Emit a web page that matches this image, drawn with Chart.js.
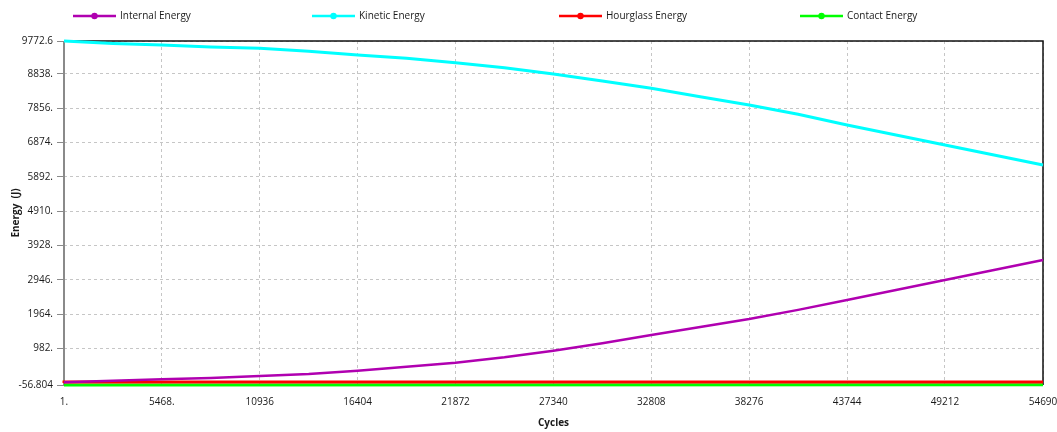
<!DOCTYPE html>
<html>
<head>
<meta charset="utf-8">
<script src="https://cdn.jsdelivr.net/npm/chart.js@4.4.1/dist/chart.umd.min.js"></script>
<style>
  html, body { margin: 0; padding: 0; background: #ffffff; }
  #wrap { width: 1057px; height: 432px; }
</style>
</head>
<body>
<div id="wrap"><canvas id="energy" width="1057" height="432"></canvas></div>
<script>
// Sampled cycle numbers for the smooth energy curves
const cycles = [1, 2735, 5468, 8202, 10936, 13670, 16404, 19138, 21872, 24606, 27340,
                30074, 32808, 35542, 38276, 41010, 43744, 46478, 49212, 51951, 54690];
const internalEnergy = [20, 66, 106, 143, 200, 257, 352, 466, 580, 735, 923,
                        1135, 1370, 1600, 1829, 2090, 2372, 2655, 2943, 3230, 3515];
const kineticEnergy = [9772.6, 9700, 9657, 9600, 9562, 9480, 9371, 9277, 9151, 9009, 8830,
                       8628, 8420, 8180, 7943, 7680, 7371, 7086, 6800, 6514, 6229];
// Hourglass energy jumps once, contact energy stays near zero
const hourglassCycles = [1, 39270, 54690];
const hourglassEnergy = [0, 30, 30];
const contactCycles = [1, 54690];
const contactEnergy = [-56.804, -50];

const seriesNames = ['Internal Energy', 'Kinetic Energy', 'Hourglass Energy', 'Contact Energy'];
const seriesColors = ['#B000B0', '#00FFFF', '#FF0000', '#00FF00'];

const xTicks = [1, 5468, 10936, 16404, 21872, 27340, 32808, 38276, 43744, 49212, 54690];
const xTickLabels = ['1.', '5468.', '10936', '16404', '21872', '27340', '32808', '38276', '43744', '49212', '54690'];
const yTicks = [-56.804, 982, 1964, 2946, 3928, 4910, 5892, 6874, 7856, 8838, 9772.6];
const yTickLabels = ['-56.804', '982.', '1964.', '2946.', '3928.', '4910.', '5892.', '6874.', '7856.', '8838.', '9772.6'];

const FONT = '"Open Sans", "Liberation Sans", sans-serif';
const TEXT = '#1a1a1a';

function pts(xs, ys) { return xs.map((x, i) => ({ x: x, y: ys[i] })); }

// Frame: grey left axis, black top and right edges
const framePlugin = {
  id: 'frame',
  beforeDatasetsDraw(chart) {
    const { ctx, chartArea: a } = chart;
    ctx.save();
    ctx.lineWidth = 2;
    ctx.strokeStyle = '#8a8a8a';
    ctx.beginPath(); ctx.moveTo(a.left, a.top); ctx.lineTo(a.left, a.bottom + 1); ctx.stroke();
    ctx.lineWidth = 1.5;
    ctx.strokeStyle = '#111111';
    ctx.beginPath(); ctx.moveTo(a.left, a.top); ctx.lineTo(a.right, a.top); ctx.lineTo(a.right, a.bottom); ctx.stroke();
    ctx.restore();
  }
};

// Legend row and axis titles
const labelsPlugin = {
  id: 'labels',
  afterDraw(chart) {
    const { ctx, chartArea: a } = chart;
    ctx.save();
    const starts = [73, 312, 559, 800];
    chart.data.datasets.forEach((ds, i) => {
      const x = starts[i], y = 16;
      ctx.strokeStyle = ds.borderColor;
      ctx.lineWidth = 2.5;
      ctx.beginPath(); ctx.moveTo(x, y); ctx.lineTo(x + 43, y); ctx.stroke();
      ctx.fillStyle = ds.borderColor;
      ctx.beginPath(); ctx.arc(x + 21.5, y, 3.2, 0, Math.PI * 2); ctx.fill();
      ctx.fillStyle = TEXT;
      ctx.font = '10px ' + FONT;
      ctx.textBaseline = 'middle';
      ctx.textAlign = 'left';
      ctx.fillText(ds.label, x + 47, y);
    });
    ctx.font = 'bold 10px ' + FONT;
    ctx.fillStyle = TEXT;
    ctx.textAlign = 'center';
    ctx.textBaseline = 'middle';
    ctx.fillText('Cycles', (a.left + a.right) / 2, 423);
    ctx.translate(16, (a.top + a.bottom) / 2);
    ctx.rotate(-Math.PI / 2);
    ctx.fillText('Energy  (J)', 0, 0);
    ctx.restore();
  }
};

const lineStyle = { pointRadius: 0, tension: 0, fill: false, clip: false };

new Chart(document.getElementById('energy'), {
  type: 'line',
  data: {
    datasets: [
      Object.assign({ label: seriesNames[0], data: pts(cycles, internalEnergy), borderColor: seriesColors[0], backgroundColor: seriesColors[0], borderWidth: 2.5 }, lineStyle),
      Object.assign({ label: seriesNames[1], data: pts(cycles, kineticEnergy), borderColor: seriesColors[1], backgroundColor: seriesColors[1], borderWidth: 3 }, lineStyle),
      Object.assign({ label: seriesNames[2], data: pts(hourglassCycles, hourglassEnergy), borderColor: seriesColors[2], backgroundColor: seriesColors[2], borderWidth: 3, stepped: 'after' }, lineStyle),
      Object.assign({ label: seriesNames[3], data: pts(contactCycles, contactEnergy), borderColor: seriesColors[3], backgroundColor: seriesColors[3], borderWidth: 3 }, lineStyle)
    ]
  },
  options: {
    responsive: false,
    animation: false,
    devicePixelRatio: 1,
    layout: { padding: { left: 0, right: 14, top: 41, bottom: 0 } },
    plugins: { legend: { display: false }, tooltip: { enabled: false } },
    scales: {
      x: {
        type: 'linear',
        min: 1,
        max: 54690,
        afterBuildTicks(s) { s.ticks = xTicks.map(v => ({ value: v })); },
        afterFit(s) { s.height = 47; s.paddingLeft = 0; s.paddingRight = 0; },
        ticks: {
          autoSkip: false, maxRotation: 0, padding: 11,
          color: TEXT, font: { family: FONT, size: 10 },
          callback: (v, i) => xTickLabels[i]
        },
        grid: { color: '#c6c6c6', lineWidth: 1, drawTicks: false },
        border: { display: false, dash: [3, 3] }
      },
      y: {
        type: 'linear',
        min: -56.804,
        max: 9772.6,
        afterBuildTicks(s) { s.ticks = yTicks.map(v => ({ value: v })); },
        afterFit(s) { s.width = 64; s.paddingTop = 0; s.paddingBottom = 0; },
        ticks: {
          autoSkip: false, padding: 4,
          color: TEXT, font: { family: FONT, size: 10 },
          callback: (v, i) => yTickLabels[i]
        },
        grid: { color: '#c6c6c6', lineWidth: 1, tickLength: 7, tickColor: '#8a8a8a', tickBorderDash: [] },
        border: { display: false, dash: [3, 3] }
      }
    }
  },
  plugins: [framePlugin, labelsPlugin]
});
</script>
</body>
</html>
